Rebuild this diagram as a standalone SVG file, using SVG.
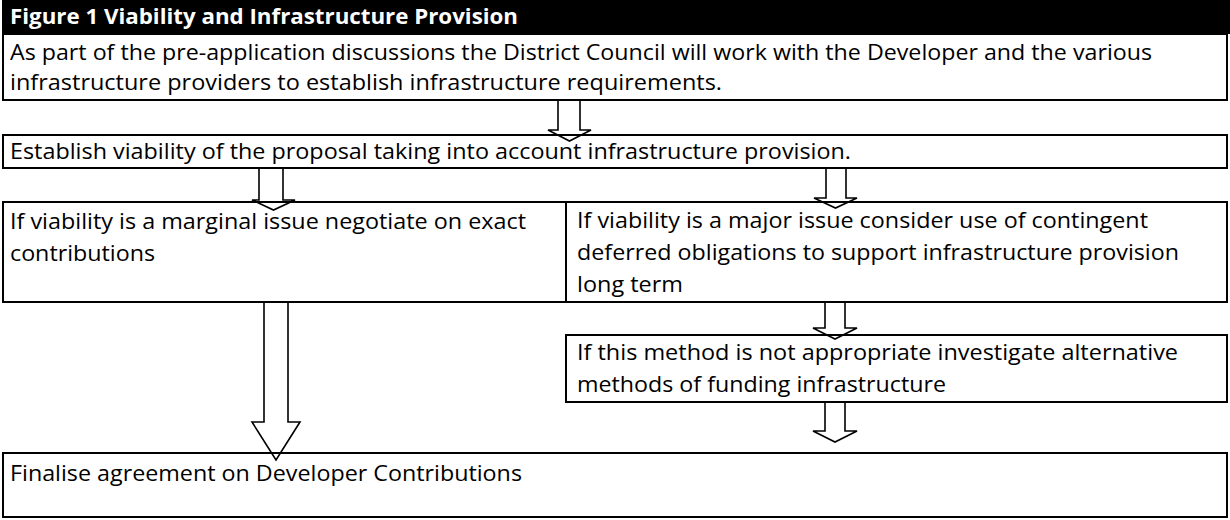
<svg xmlns="http://www.w3.org/2000/svg" width="1230" height="520" viewBox="0 0 1230 520">
<style>
.box{fill:none;stroke:#000;stroke-width:2}
.arr{fill:#fff;stroke:#000;stroke-width:1.6;stroke-linejoin:miter}
.t{font-family:"Open Sans","Liberation Sans",sans-serif;font-size:21px;fill:#000}
.h{font-family:"Open Sans","Liberation Sans",sans-serif;font-size:21px;font-weight:bold;fill:#fff}
</style>
<rect x="0" y="0" width="1230" height="520" fill="#fff"/>
<g id="connectors">
<polygon class="arr" points="558,100 558,130 548,130 569.5,141 591,130 580,130 580,100"/>
<polygon class="arr" points="259,168 259,200 252,200 273.5,210 295,200 283,200 283,168"/>
<polygon class="arr" points="826,168 826,198 814,198 835.5,208 857,198 846,198 846,168"/>
<polygon class="arr" points="264,302 264,422 252,422 276,460 300,422 288,422 288,302"/>
<polygon class="arr" points="825,302 825,328 813,328 835,339 857,328 845,328 845,302"/>
<polygon class="arr" points="825,402 825,431 813,431 835,442 857,431 845,431 845,402"/>
</g>
<g id="title">
<rect x="2" y="0" width="1228" height="34" fill="#000"/>
<text class="h" x="10" y="24" textLength="508" lengthAdjust="spacingAndGlyphs">Figure 1 Viability and Infrastructure Provision</text>
</g>
<g id="n1">
<rect class="box" x="3" y="34" width="1224" height="66"/>
<text class="t" x="10" y="60" textLength="1142" lengthAdjust="spacingAndGlyphs">As part of the pre-application discussions the District Council will work with the Developer and the various</text>
<text class="t" x="10" y="90" textLength="712" lengthAdjust="spacingAndGlyphs">infrastructure providers to establish infrastructure requirements.</text>
</g>
<g id="n2">
<rect class="box" x="3" y="135" width="1224" height="33"/>
<text class="t" x="10" y="159" textLength="841" lengthAdjust="spacingAndGlyphs">Establish viability of the proposal taking into account infrastructure provision.</text>
</g>
<g id="n3">
<rect class="box" x="3" y="202" width="563" height="100"/>
<text class="t" x="10" y="229" textLength="516" lengthAdjust="spacingAndGlyphs">If viability is a marginal issue negotiate on exact</text>
<text class="t" x="10" y="261" textLength="145" lengthAdjust="spacingAndGlyphs">contributions</text>
</g>
<g id="n4">
<rect class="box" x="566" y="202" width="661" height="100"/>
<text class="t" x="577" y="228" textLength="571" lengthAdjust="spacingAndGlyphs">If viability is a major issue consider use of contingent</text>
<text class="t" x="577" y="260" textLength="602" lengthAdjust="spacingAndGlyphs">deferred obligations to support infrastructure provision</text>
<text class="t" x="577" y="292" textLength="106" lengthAdjust="spacingAndGlyphs">long term</text>
</g>
<g id="n5">
<rect class="box" x="566" y="335" width="661" height="67"/>
<text class="t" x="577" y="360" textLength="601" lengthAdjust="spacingAndGlyphs">If this method is not appropriate investigate alternative</text>
<text class="t" x="577" y="392" textLength="369" lengthAdjust="spacingAndGlyphs">methods of funding infrastructure</text>
</g>
<g id="n6">
<rect class="box" x="3" y="453" width="1224" height="64"/>
<text class="t" x="10" y="481" textLength="512" lengthAdjust="spacingAndGlyphs">Finalise agreement on Developer Contributions</text>
</g>
</svg>
